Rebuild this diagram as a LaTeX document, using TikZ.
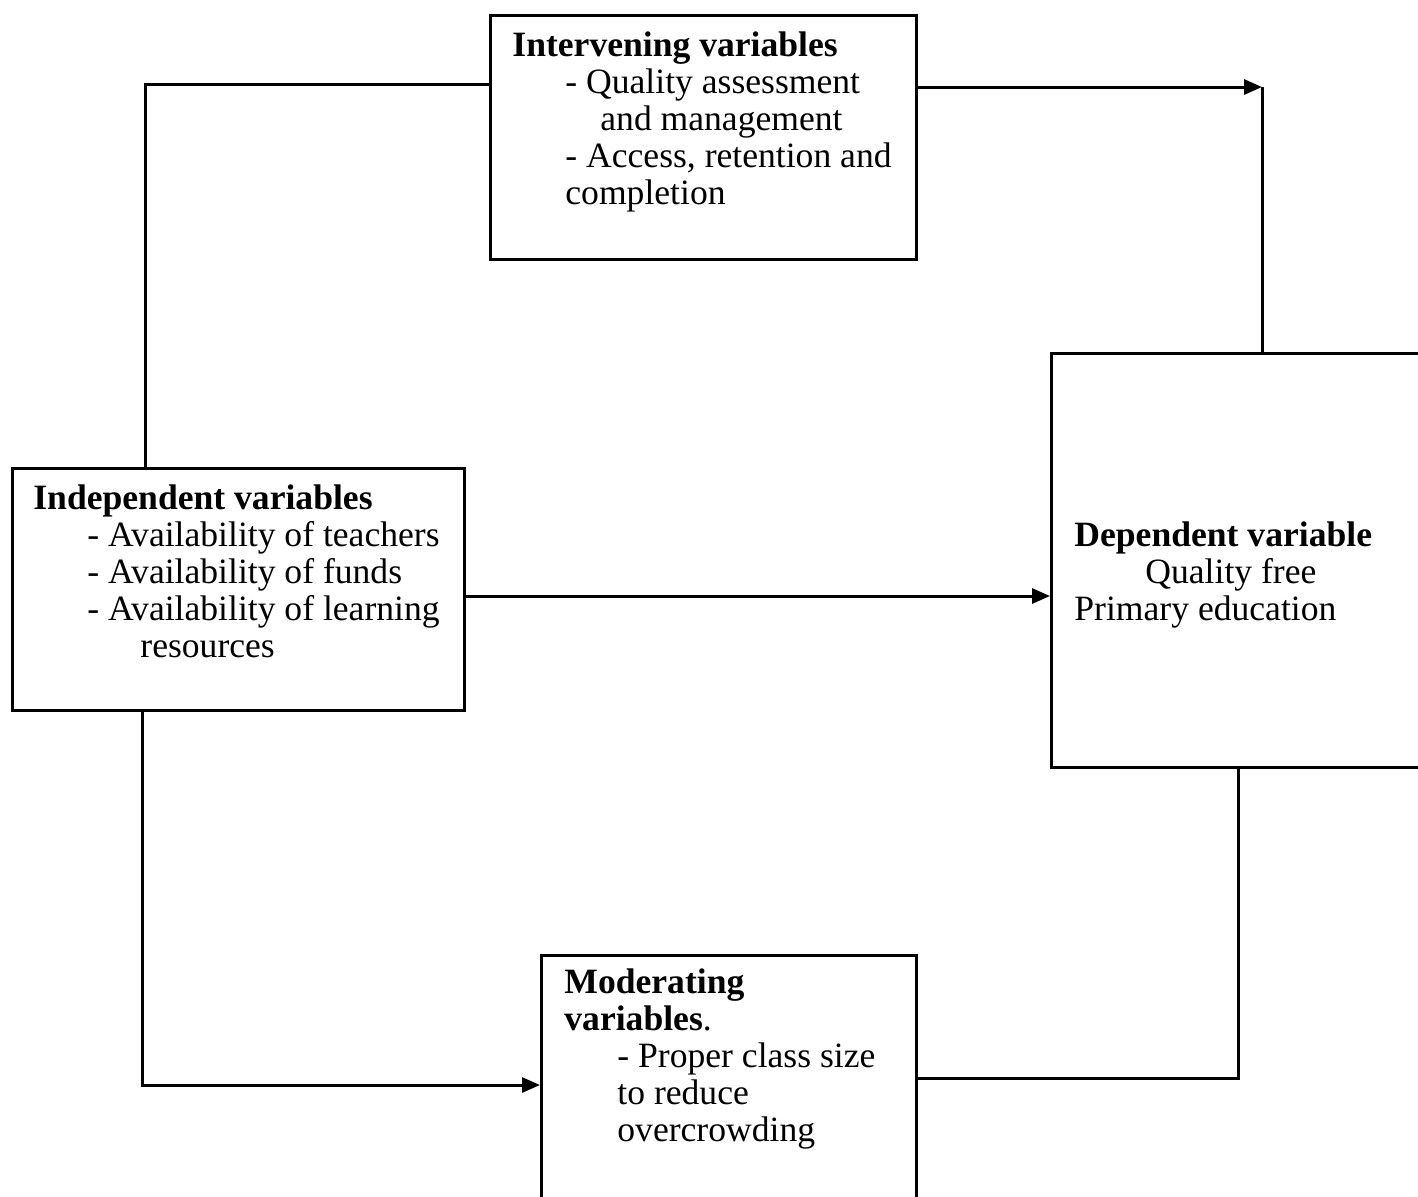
\documentclass[tikz,border=0pt]{standalone}
\usepackage{fontspec}
\setmainfont{Liberation Serif}
\usetikzlibrary{arrows.meta}
\begin{document}
\begin{tikzpicture}[x=0.5pt,y=-0.5pt,
  box/.style={draw,line width=1.3pt,rectangle,inner sep=0pt,anchor=north west},
  txt/.style={anchor=base west,inner sep=0pt,align=left,font=\fontsize{17.8}{18.5}\selectfont},
  conn/.style={line width=1.5pt},
  arr/.style={conn,-{Triangle[length=9pt,width=7.5pt]}}]
\useasboundingbox (0,0) rectangle (1418,1196);
% boxes
\node[box,minimum width=213pt,minimum height=122pt] (int) at (489,14) {};
\node[box,minimum width=226pt,minimum height=121pt] (ind) at (11,467) {};
\node[box,minimum width=190pt,minimum height=207pt] (dep) at (1050,352) {};
\node[box,minimum width=187.5pt,minimum height=130pt] (mod) at (540,954) {};
% texts (anchored at the baseline of the last line)
\node[txt] (intt) at (512,204) {\textbf{Intervening variables}\\
\hspace*{26.5pt}- Quality assessment\\
\hspace*{44pt}and management\\
\hspace*{26.5pt}- Access, retention and\\
\hspace*{26.5pt}completion};
\node[txt] (indt) at (33,657) {\textbf{Independent variables}\\
\hspace*{27pt}- Availability of teachers\\
\hspace*{27pt}- Availability of funds\\
\hspace*{27pt}- Availability of learning\\
\hspace*{53.5pt}resources};
\node[txt] (dept) at (1074,620) {\textbf{Dependent variable}\\
\hspace*{35.5pt}Quality free\\
Primary education};
\node[txt] (modt) at (564,1141) {\textbf{Moderating}\\
\textbf{variables}.\\
\hspace*{26.5pt}- Proper class size\\
\hspace*{26.5pt}to reduce\\
\hspace*{26.5pt}overcrowding};
% connectors
\coordinate (c1) at (145,84);
\coordinate (c2) at (1262,87);
\coordinate (c3) at (0,596);
\coordinate (c4) at (142,1085);
\coordinate (c5) at (1238,1078);
\draw[conn] (ind.north -| c1) -- (c1) -- (c1 -| int.west);
\draw[arr] (c2 -| int.east) -- (c2);
\draw[conn] (c2) -- (c2 |- dep.north);
\draw[arr] (ind.east |- c3) -- (dep.west |- c3);
\draw[arr] (ind.south -| c4) -- (c4) -- (c4 -| mod.west);
\draw[conn] (mod.east |- c5) -- (c5) -- (c5 |- dep.south);
\end{tikzpicture}
\end{document}
